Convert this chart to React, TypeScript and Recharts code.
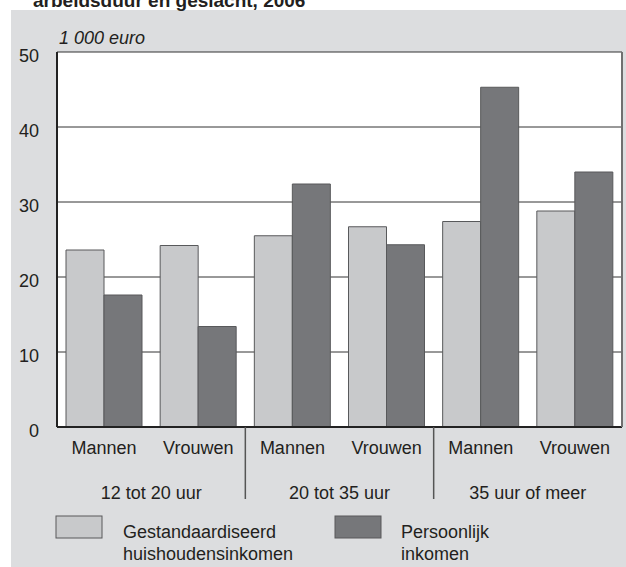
import { BarChart, Bar, XAxis, YAxis, CartesianGrid, Legend } from 'recharts';

const FONT = '"Liberation Sans", Arial, Helvetica, sans-serif';

const categories = ['Mannen', 'Vrouwen', 'Mannen', 'Vrouwen', 'Mannen', 'Vrouwen'];
const groups = ['12 tot 20 uur', '20 tot 35 uur', '35 uur of meer'];
const huishoudensinkomen = [23.6, 24.2, 25.5, 26.7, 27.4, 28.8];
const persoonlijkInkomen = [17.6, 13.4, 32.4, 24.3, 45.3, 34.0];
const yTicks = [0, 10, 20, 30, 40, 50];

const LIGHT = '#c8c9cb';
const DARK = '#76777a';
const EDGE = '#58595b';
const TEXT = '#231f20';

const data = categories.map((c, i) => ({
  key: `c${i}`,
  label: c,
  huishouden: huishoudensinkomen[i],
  persoonlijk: persoonlijkInkomen[i],
}));

// category label + group label / separator under every second bar pair
function CatTick(props: any) {
  const { x, y, index } = props;
  const band = props.width && props.visibleTicksCount ? props.width / props.visibleTicksCount : 94.17;
  const isSecond = index % 2 === 1;
  const mid = x - band / 2;
  const edge = x + band / 2;
  return (
    <g>
      <text x={x} y={y + 27} textAnchor="middle" fontSize={18} fontFamily={FONT} fill={TEXT}>
        {categories[index]}
      </text>
      {isSecond && (
        <text x={mid} y={y + 72} textAnchor="middle" fontSize={18} fontFamily={FONT} fill={TEXT}>
          {groups[(index - 1) / 2]}
        </text>
      )}
      {isSecond && index < categories.length - 1 && (
        <line x1={edge} x2={edge} y1={y} y2={y + 72} stroke="#555" strokeWidth={1.5} />
      )}
    </g>
  );
}

function ValueTick(props: any) {
  const { x, y, payload } = props;
  return (
    <text x={x - 10} y={y + 10} textAnchor="end" fontSize={18} fontFamily={FONT} fill={TEXT}>
      {payload.value}
    </text>
  );
}

function LegendBox() {
  const items = [
    { fill: LIGHT, lines: ['Gestandaardiseerd', 'huishoudensinkomen'], sx: 56, tx: 123 },
    { fill: DARK, lines: ['Persoonlijk', 'inkomen'], sx: 335, tx: 401 },
  ];
  return (
    <svg width={626} height={57} style={{ display: 'block' }}>
      {items.map((it) => (
        <g key={it.sx}>
          <rect x={it.sx} y={6} width={46} height={22} fill={it.fill} stroke={EDGE} strokeWidth={1} />
          {it.lines.map((l, i) => (
            <text key={l} x={it.tx} y={28 + i * 22} fontSize={18} fontFamily={FONT} fill={TEXT}>
              {l}
            </text>
          ))}
        </g>
      ))}
    </svg>
  );
}

export default function App() {
  return (
    <div
      style={{
        position: 'absolute',
        left: 0,
        top: 0,
        width: 626,
        height: 567,
        overflow: 'hidden',
        background: '#fff',
        fontFamily: FONT,
      }}
    >
      <div style={{ position: 'absolute', left: 11, top: 10, right: 0, bottom: 0, background: '#dcdddf' }} />
      <svg width={626} height={60} style={{ position: 'absolute', left: 0, top: 0 }}>
        <text x={33} y={7} fontSize={19} fontWeight="bold" fontFamily={FONT} fill={TEXT}>
          arbeidsduur en geslacht, 2006
        </text>
        <text x={59} y={44} fontSize={18} fontStyle="italic" fontFamily={FONT} fill={TEXT}>
          1 000 euro
        </text>
      </svg>
      <div style={{ position: 'absolute', left: 0, top: 0 }}>
        <BarChart
          width={626}
          height={567}
          data={data}
          margin={{ top: 52, right: 0, bottom: 0, left: 0 }}
          barGap={0}
          barSize={38}
        >
          <CartesianGrid vertical={false} stroke="#333" strokeWidth={1} fill="#fff" fillOpacity={1} />
          <XAxis
            dataKey="key"
            height={140}
            tickLine={false}
            tickSize={0}
            tickMargin={0}
            axisLine={{ stroke: '#222', strokeWidth: 2 }}
            tick={<CatTick />}
            interval={0}
          />
          <XAxis xAxisId="top" dataKey="key" orientation="top" height={0} tick={false} tickLine={false} axisLine={{ stroke: '#444', strokeWidth: 2 }} />
          <YAxis
            width={57}
            domain={[0, 50]}
            ticks={yTicks}
            tickLine={false}
            axisLine={{ stroke: '#222', strokeWidth: 2 }}
            tick={<ValueTick />}
          />
          <YAxis yAxisId="right" orientation="right" width={4} domain={[0, 50]} tick={false} tickLine={false} axisLine={{ stroke: '#707070', strokeWidth: 2 }} />
          <Legend
            layout="horizontal"
            verticalAlign="middle"
            align="center"
            wrapperStyle={{ left: 0, top: 510, width: 626, height: 57 }}
            content={() => <LegendBox />}
          />
          <Bar dataKey="huishouden" fill={LIGHT} stroke={EDGE} strokeWidth={1} isAnimationActive={false} />
          <Bar dataKey="persoonlijk" fill={DARK} stroke={EDGE} strokeWidth={1} isAnimationActive={false} />
        </BarChart>
      </div>
    </div>
  );
}
